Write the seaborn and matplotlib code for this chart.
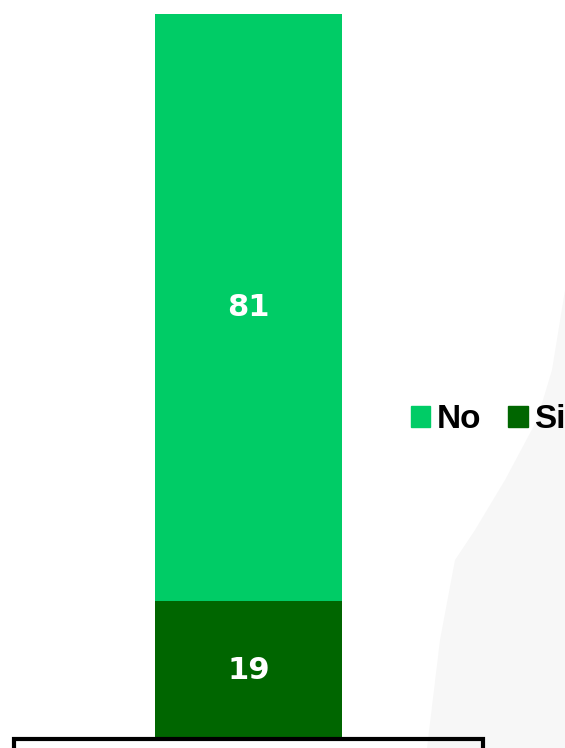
import matplotlib.pyplot as plt
import matplotlib.patches as mpatches
import seaborn as sns
import pandas as pd

# datos
categorias = ['No', 'Si']
valores = [81, 19]
colores = {'No': '#00cc66', 'Si': '#006600'}

df = pd.DataFrame({'grupo': ['total'], 'No': [valores[0]], 'Si': [valores[1]]})
df['acum'] = df['No'] + df['Si']

W, H = 565, 748
fig = plt.figure(figsize=(W / 100, H / 100), dpi=100)

# fondo gris claro (decorativo)
borde = [(565, 290), (552, 370), (537, 420), (505, 480), (475, 530), (455, 560),
         (440, 640), (427, 748)]
fondo = mpatches.Polygon(
    [(x / W, 1 - y / H) for x, y in borde] + [(1, 0)],
    closed=True, transform=fig.transFigure, facecolor='#f7f7f7',
    edgecolor='none', zorder=0)
fig.patches.append(fondo)

ax = fig.add_axes([61.5 / W, 9 / H, 374 / W, 725 / H])
ax.set_facecolor('none')

# barra apilada: primero el total, luego "Si" encima
sns.barplot(data=df, x='grupo', y='acum', color=colores['No'], width=0.5,
            saturation=1, ax=ax, zorder=2)
sns.barplot(data=df, x='grupo', y='Si', color=colores['Si'], width=0.5,
            saturation=1, ax=ax, zorder=3)

ax.set_xlim(-0.5, 0.5)
ax.set_ylim(0, 100)
ax.axis('off')

# etiquetas de valores
ax.text(0, df['Si'][0] + df['No'][0] / 2, str(valores[0]), ha='center', va='center',
        color='white', fontsize=22, fontweight='bold', zorder=5)
ax.text(0, df['Si'][0] / 2, str(valores[1]), ha='center', va='center',
        color='white', fontsize=22, fontweight='bold', zorder=5)

# leyenda
handles = [mpatches.Patch(color=colores[c], label=c) for c in categorias]
fig.legend(handles=handles, loc='center left', bbox_to_anchor=(411 / W, 1 - 420 / H),
           ncol=2, frameon=False, borderpad=0, borderaxespad=0,
           handlelength=0.58, handleheight=0.58,
           handletextpad=0.2, columnspacing=0.8,
           prop={'family': 'Liberation Sans', 'weight': 'bold', 'size': 24})

# recuadro inferior
caja = mpatches.Rectangle((14 / W, -0.05), 469 / W, 0.05 + 9 / H,
                          transform=fig.transFigure, fill=False,
                          edgecolor='black', linewidth=3, zorder=4)
fig.patches.append(caja)

fig.savefig('out.png', dpi=100)
